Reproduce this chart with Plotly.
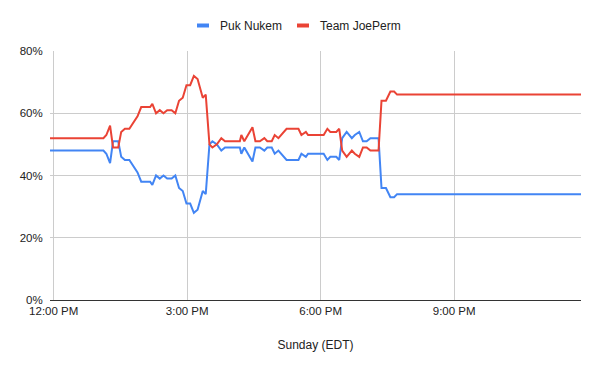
import plotly.graph_objects as go

DAY = "2021-06-13"

times = ["11:55", "13:07", "13:11", "13:16", "13:20", "13:27", "13:31", "13:36", "13:42", "13:47",
         "13:53", "13:58", "14:03", "14:10", "14:13", "14:18", "14:23", "14:28", "14:33", "14:39",
         "14:44", "14:49", "14:54", "14:59", "15:04", "15:09", "15:14", "15:21", "15:25", "15:30",
         "15:34", "15:40", "15:46", "15:51", "16:11", "16:13", "16:17", "16:22", "16:28", "16:32",
         "16:38", "16:44", "16:48", "16:54", "16:58", "17:03", "17:10", "17:14", "17:30", "17:34",
         "17:40", "17:43", "18:04", "18:09", "18:13", "18:21", "18:25", "18:29", "18:35", "18:42",
         "18:46", "18:52", "18:57", "19:02", "19:07", "19:18", "19:22", "19:28", "19:34", "19:39",
         "19:43", "23:51"]

puk_nukem = [48, 48, 47, 44, 51, 51, 46, 45, 45, 43,
             41, 38, 38, 38, 37, 40, 39, 40, 39, 39,
             40, 36, 35, 31, 31, 28, 29, 35, 34, 50,
             51, 50, 48, 49, 49, 47, 49, 47, 44.5, 49,
             49, 48, 49, 49, 47, 48, 46, 45, 45, 47,
             46, 47, 47, 45, 46, 46, 45, 52, 54, 52,
             53, 54, 51, 51, 52, 52, 36, 36, 33, 33,
             34, 34]

team_joeperm = [52, 52, 53, 56, 49, 49, 54, 55, 55, 57,
                59, 62, 62, 62, 63, 60, 61, 60, 61, 61,
                60, 64, 65, 69, 69, 72, 71, 65, 66, 50,
                49, 50, 52, 51, 51, 53, 51, 53, 55.5, 51,
                51, 52, 51, 51, 53, 52, 54, 55, 55, 53,
                54, 53, 53, 55, 54, 54, 55, 48, 46, 48,
                47, 46, 49, 49, 48, 48, 64, 64, 67, 67,
                66, 66]

series_names = ["Puk Nukem", "Team JoePerm"]
series_colors = ["#4285F4", "#EA4335"]
y_ticks = [0, 20, 40, 60, 80]
y_tick_labels = ["0%", "20%", "40%", "60%", "80%"]
x_title = "Sunday (EDT)"

x = [f"{DAY} {t}" for t in times]

FONT = "Liberation Sans, Arial, sans-serif"
TXT = "#222222"

# page body has an 8px default margin: size the figure so the plot lands
# where the original's does inside the 600x371 window
OFF = 8
FIG_W, FIG_H = 600 - OFF, 371 - OFF
L, R, T, B = 50, 581, 51, 300          # plot area in window pixels
W, H = R - L, B - T

fig = go.Figure()
for name, vals, col in zip(series_names, [puk_nukem, team_joeperm], series_colors):
    fig.add_trace(go.Scatter(x=x, y=vals, mode="lines", name=name,
                             line=dict(color=col, width=2), showlegend=False))

def px(v):
    return (v - L) / W

def py(v):
    return (B - v) / H

# legend drawn manually (short swatches like the original)
legend_y = 25.5
swatches = [(197, 209, 218), (297, 309, 318)]
for (x0, x1, tx), name, col in zip(swatches, series_names, series_colors):
    fig.add_shape(type="rect", xref="paper", yref="paper",
                  x0=px(x0), x1=px(x1), y0=py(legend_y + 2), y1=py(legend_y - 2),
                  fillcolor=col, line=dict(width=0))
    fig.add_annotation(text=name, xref="paper", yref="paper", x=px(tx), y=py(legend_y),
                       xanchor="left", yanchor="middle", showarrow=False,
                       font=dict(family=FONT, size=12, color=TXT))

fig.update_layout(
    width=FIG_W, height=FIG_H, autosize=False,
    margin=dict(l=L - OFF, r=600 - R, t=T - OFF, b=371 - B, pad=0, autoexpand=False),
    paper_bgcolor="white", plot_bgcolor="white",
    font=dict(family=FONT, size=12, color=TXT),
    xaxis=dict(type="date", range=[f"{DAY} 11:55", f"{DAY} 23:51"],
               tick0=f"{DAY} 12:00", dtick=3 * 3600 * 1000,
               tickformat="%-I:%M %p", showgrid=True, gridcolor="#cccccc", gridwidth=1,
               showline=True, linecolor="#333333", linewidth=1, zeroline=False,
               ticks="", tickfont=dict(size=11.5, color=TXT), automargin=False,
               title=dict(text=x_title, font=dict(size=12, color=TXT), standoff=24)),
    yaxis=dict(range=[0, 80], tickmode="array", tickvals=y_ticks, ticktext=y_tick_labels,
               showgrid=True, gridcolor="#cccccc", gridwidth=1, zeroline=False,
               showline=False, ticks="outside", ticklen=4, tickcolor="rgba(0,0,0,0)",
               tickfont=dict(size=11.5, color=TXT), automargin=False),
)

fig.write_html("out.html")
